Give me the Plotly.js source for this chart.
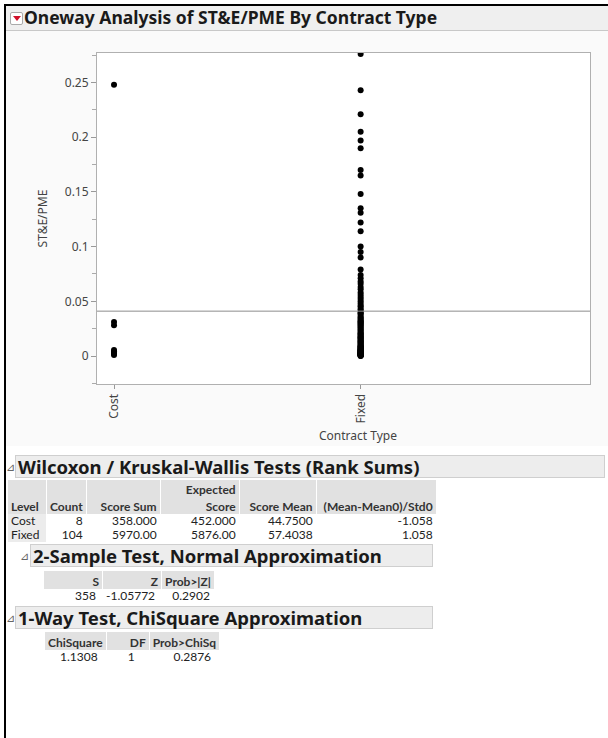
<!DOCTYPE html>
<html>
<head>
<meta charset="utf-8">
<script src="https://cdn.plot.ly/plotly-3.0.1.min.js"></script>
<style>
  html, body { margin:0; padding:0; background:#ffffff; width:608px; height:738px; overflow:hidden; font-family:"Noto Sans", "Open Sans", sans-serif; }
  #frameL { position:absolute; left:4px; top:4px; width:2px; height:734px; background:#000; }
  #frameT { position:absolute; left:4px; top:4px; width:604px; height:2px; background:#000; }
  #titlebar { position:absolute; left:6px; top:6px; width:602px; height:24px; background:#efefef; border-bottom:1px solid #c8c8c8; }
  #icon { position:absolute; left:4px; top:6px; width:11px; height:11px; background:#fff; border:1px solid #aaa; border-radius:2px; }
  #icon:after { content:""; position:absolute; left:2px; top:3px; border-left:4px solid transparent; border-right:4px solid transparent; border-top:5px solid #d0102a; }
  #titletext { position:absolute; left:18px; top:0px; font-weight:bold; font-size:17.5px; line-height:23px; color:#1a1a1a; white-space:nowrap; }
  #chart { position:absolute; left:6px; top:31px; width:602px; height:415px; }
  .sechead { position:absolute; height:23px; background:#ededed; border:1px solid #cfcfcf; font-weight:bold; font-size:18.5px; color:#1a1a1a; white-space:nowrap; line-height:21px; padding-left:2px; box-sizing:border-box; }
  .tri { position:absolute; font-size:11px; color:#666; }
  table { position:absolute; border-collapse:separate; border-spacing:1px 0; font-size:12px; font-family:Lato, "Noto Sans", sans-serif; color:#222; }
  td, th { padding:0 3px; white-space:nowrap; line-height:14px; }
  th { background:#e1e1e1; font-weight:bold; text-align:right; color:#333; vertical-align:bottom; }
  td { text-align:right; }
  td.lvl { text-align:left; background:#ececec; }
  th.lvl { text-align:left; }
</style>
</head>
<body>
<div id="frameL"></div>
<div id="frameT"></div>
<div id="titlebar"><div id="icon"></div><div id="titletext">Oneway Analysis of ST&amp;E/PME By Contract Type</div></div>
<div id="chart"></div>

<div class="tri" style="left:6px; top:459px;">&#x22BF;</div>
<div class="sechead" style="left:15px; top:455px; width:590px;">Wilcoxon / Kruskal-Wallis Tests (Rank Sums)</div>
<table id="wilcox" style="left:7px; top:480px;">
  <tr style="height:17px;"><th class="lvl" style="width:32px;"></th><th style="width:32px;"></th><th style="width:67px;"></th><th style="width:72px;">Expected</th><th style="width:70px;"></th><th style="width:113px;"></th></tr>
  <tr style="height:17px;"><th class="lvl">Level</th><th>Count</th><th>Score Sum</th><th>Score</th><th>Score Mean</th><th>(Mean-Mean0)/Std0</th></tr>
  <tr id="wr0"></tr>
  <tr id="wr1"></tr>
</table>

<div class="tri" style="left:20px; top:548px;">&#x22BF;</div>
<div class="sechead" style="left:30px; top:544px; width:403px;">2-Sample Test, Normal Approximation</div>
<table id="twos" style="left:43px; top:571px;">
  <tr style="height:18px;"><th style="width:52px;">S</th><th style="width:48px;">Z</th><th style="width:42px;">Prob&gt;|Z|</th></tr>
  <tr id="tr0"></tr>
</table>

<div class="tri" style="left:6px; top:610px;">&#x22BF;</div>
<div class="sechead" style="left:15px; top:606px; width:418px;">1-Way Test, ChiSquare Approximation</div>
<table id="chis" style="left:44px; top:632px;">
  <tr style="height:18px;"><th style="width:52px; text-align:center;">ChiSquare</th><th style="width:36px;">DF</th><th style="width:60px;">Prob&gt;ChiSq</th></tr>
  <tr id="cr0"></tr>
</table>

<script>
// ---- Data ----
var categories = ["Cost", "Fixed"];
var costValues = [0.248, 0.031, 0.028, 0.0055, 0.004, 0.003, 0.002, 0.001];
var fixedValues = [
  0.276, 0.243, 0.221, 0.205, 0.197, 0.190, 0.170, 0.165, 0.148, 0.135, 0.131, 0.122, 0.114, 0.100, 0.095, 0.090, 0.079, 0.074,
  0.071, 0.068, 0.066, 0.063, 0.061, 0.058, 0.056, 0.054, 0.052, 0.050, 0.048, 0.046, 0.045, 0.043, 0.042, 0.040, 0.039, 0.038, 0.036, 0.035, 0.034, 0.033, 0.032, 0.031, 0.031, 0.030,
  0.029, 0.028, 0.027, 0.026, 0.025, 0.024, 0.023, 0.022, 0.021, 0.020, 0.020, 0.019, 0.018, 0.017, 0.017, 0.016, 0.015, 0.014, 0.014, 0.013, 0.012, 0.012, 0.011, 0.010, 0.010, 0.009, 0.009, 0.008, 0.008, 0.007, 0.007, 0.006, 0.006, 0.006, 0.005, 0.005, 0.005, 0.0045,
  0.004, 0.004, 0.0038, 0.0035, 0.0033, 0.003, 0.003, 0.0028, 0.0025, 0.0023, 0.002, 0.002, 0.0018, 0.0015, 0.0013, 0.001, 0.001, 0.0008, 0.0006, 0.0004, 0.0002, 0.0
];
var grandMean = 0.041;
var yTitle = "ST&E/PME";
var xTitle = "Contract Type";

// Wilcoxon table
var wilcoxLevels = ["Cost", "Fixed"];
var wilcoxCount = ["8", "104"];
var wilcoxScoreSum = ["358.000", "5970.00"];
var wilcoxExpected = ["452.000", "5876.00"];
var wilcoxScoreMean = ["44.7500", "57.4038"];
var wilcoxStd = ["-1.058", "1.058"];
// 2-sample test
var twoSample = ["358", "-1.05772", "0.2902"];
// chi-square test
var chiSquare = ["1.1308", "1", "0.2876"];

// ---- Tables ----
function fillRow(id, cells, firstLevel) {
  var tr = document.getElementById(id);
  cells.forEach(function (c, i) {
    var td = document.createElement("td");
    td.textContent = c;
    if (firstLevel && i === 0) td.className = "lvl";
    tr.appendChild(td);
  });
}
for (var i = 0; i < wilcoxLevels.length; i++) {
  fillRow("wr" + i, [wilcoxLevels[i], wilcoxCount[i], wilcoxScoreSum[i], wilcoxExpected[i], wilcoxScoreMean[i], wilcoxStd[i]], true);
}
fillRow("tr0", twoSample, false);
fillRow("cr0", chiSquare, false);
(function(){
  var r = document.getElementById("tr0").children;
  r[0].style.paddingRight = "6px"; r[1].style.paddingRight = "6px"; r[2].style.paddingRight = "4px";
  var c = document.getElementById("cr0").children;
  c[0].style.paddingRight = "8px"; c[1].style.paddingRight = "14px"; c[2].style.paddingRight = "8px";
})();

// ---- Chart ----
var traces = [
  { type: "scatter", mode: "markers", name: "Cost",
    x: costValues.map(function () { return categories[0]; }), y: costValues,
    marker: { color: "#000000", size: 6 }, hoverinfo: "skip" },
  { type: "scatter", mode: "markers", name: "Fixed",
    x: fixedValues.map(function () { return categories[1]; }), y: fixedValues,
    marker: { color: "#000000", size: 6 }, hoverinfo: "skip" }
];

var layout = {
  width: 602, height: 415,
  margin: { l: 91, r: 18, t: 22, b: 62 },
  paper_bgcolor: "#fafafa",
  plot_bgcolor: "#ffffff",
  showlegend: false,
  font: { family: "Noto Sans, Open Sans, sans-serif", size: 12, color: "#444" },
  xaxis: {
    type: "category", categoryorder: "array", categoryarray: categories,
    range: [-0.069, 1.93],
    tickangle: -90, ticks: "outside", ticklen: 4, tickcolor: "#999",
    showline: true, linecolor: "#b0b0b0", linewidth: 1, mirror: true,
    showgrid: false, zeroline: false,
    tickfont: { size: 12, color: "#444" }
  },
  yaxis: {
    range: [-0.0256, 0.277],
    dtick: 0.05, tick0: 0,
    ticks: "outside", ticklen: 5, tickcolor: "#999",
    minor: { dtick: 0.025, ticks: "outside", ticklen: 4, tickcolor: "#aaa", showgrid: false },
    showline: true, linecolor: "#b0b0b0", linewidth: 1, mirror: true,
    showgrid: false, zeroline: false,
    tickfont: { size: 12, color: "#444" },
    title: { text: yTitle, font: { size: 12, color: "#444" }, standoff: 14 }
  },
  shapes: [
    { type: "line", xref: "paper", x0: 0, x1: 1, yref: "y", y0: grandMean, y1: grandMean,
      line: { color: "#8c8c8c", width: 1 } }
  ],
  annotations: [
    { text: xTitle, xref: "paper", x: 0.53, yref: "paper", y: 0, yshift: -62, yanchor: "bottom",
      showarrow: false, font: { size: 12, color: "#444" } }
  ]
};

Plotly.newPlot("chart", traces, layout, { displayModeBar: false, staticPlot: true });
</script>
</body>
</html>
